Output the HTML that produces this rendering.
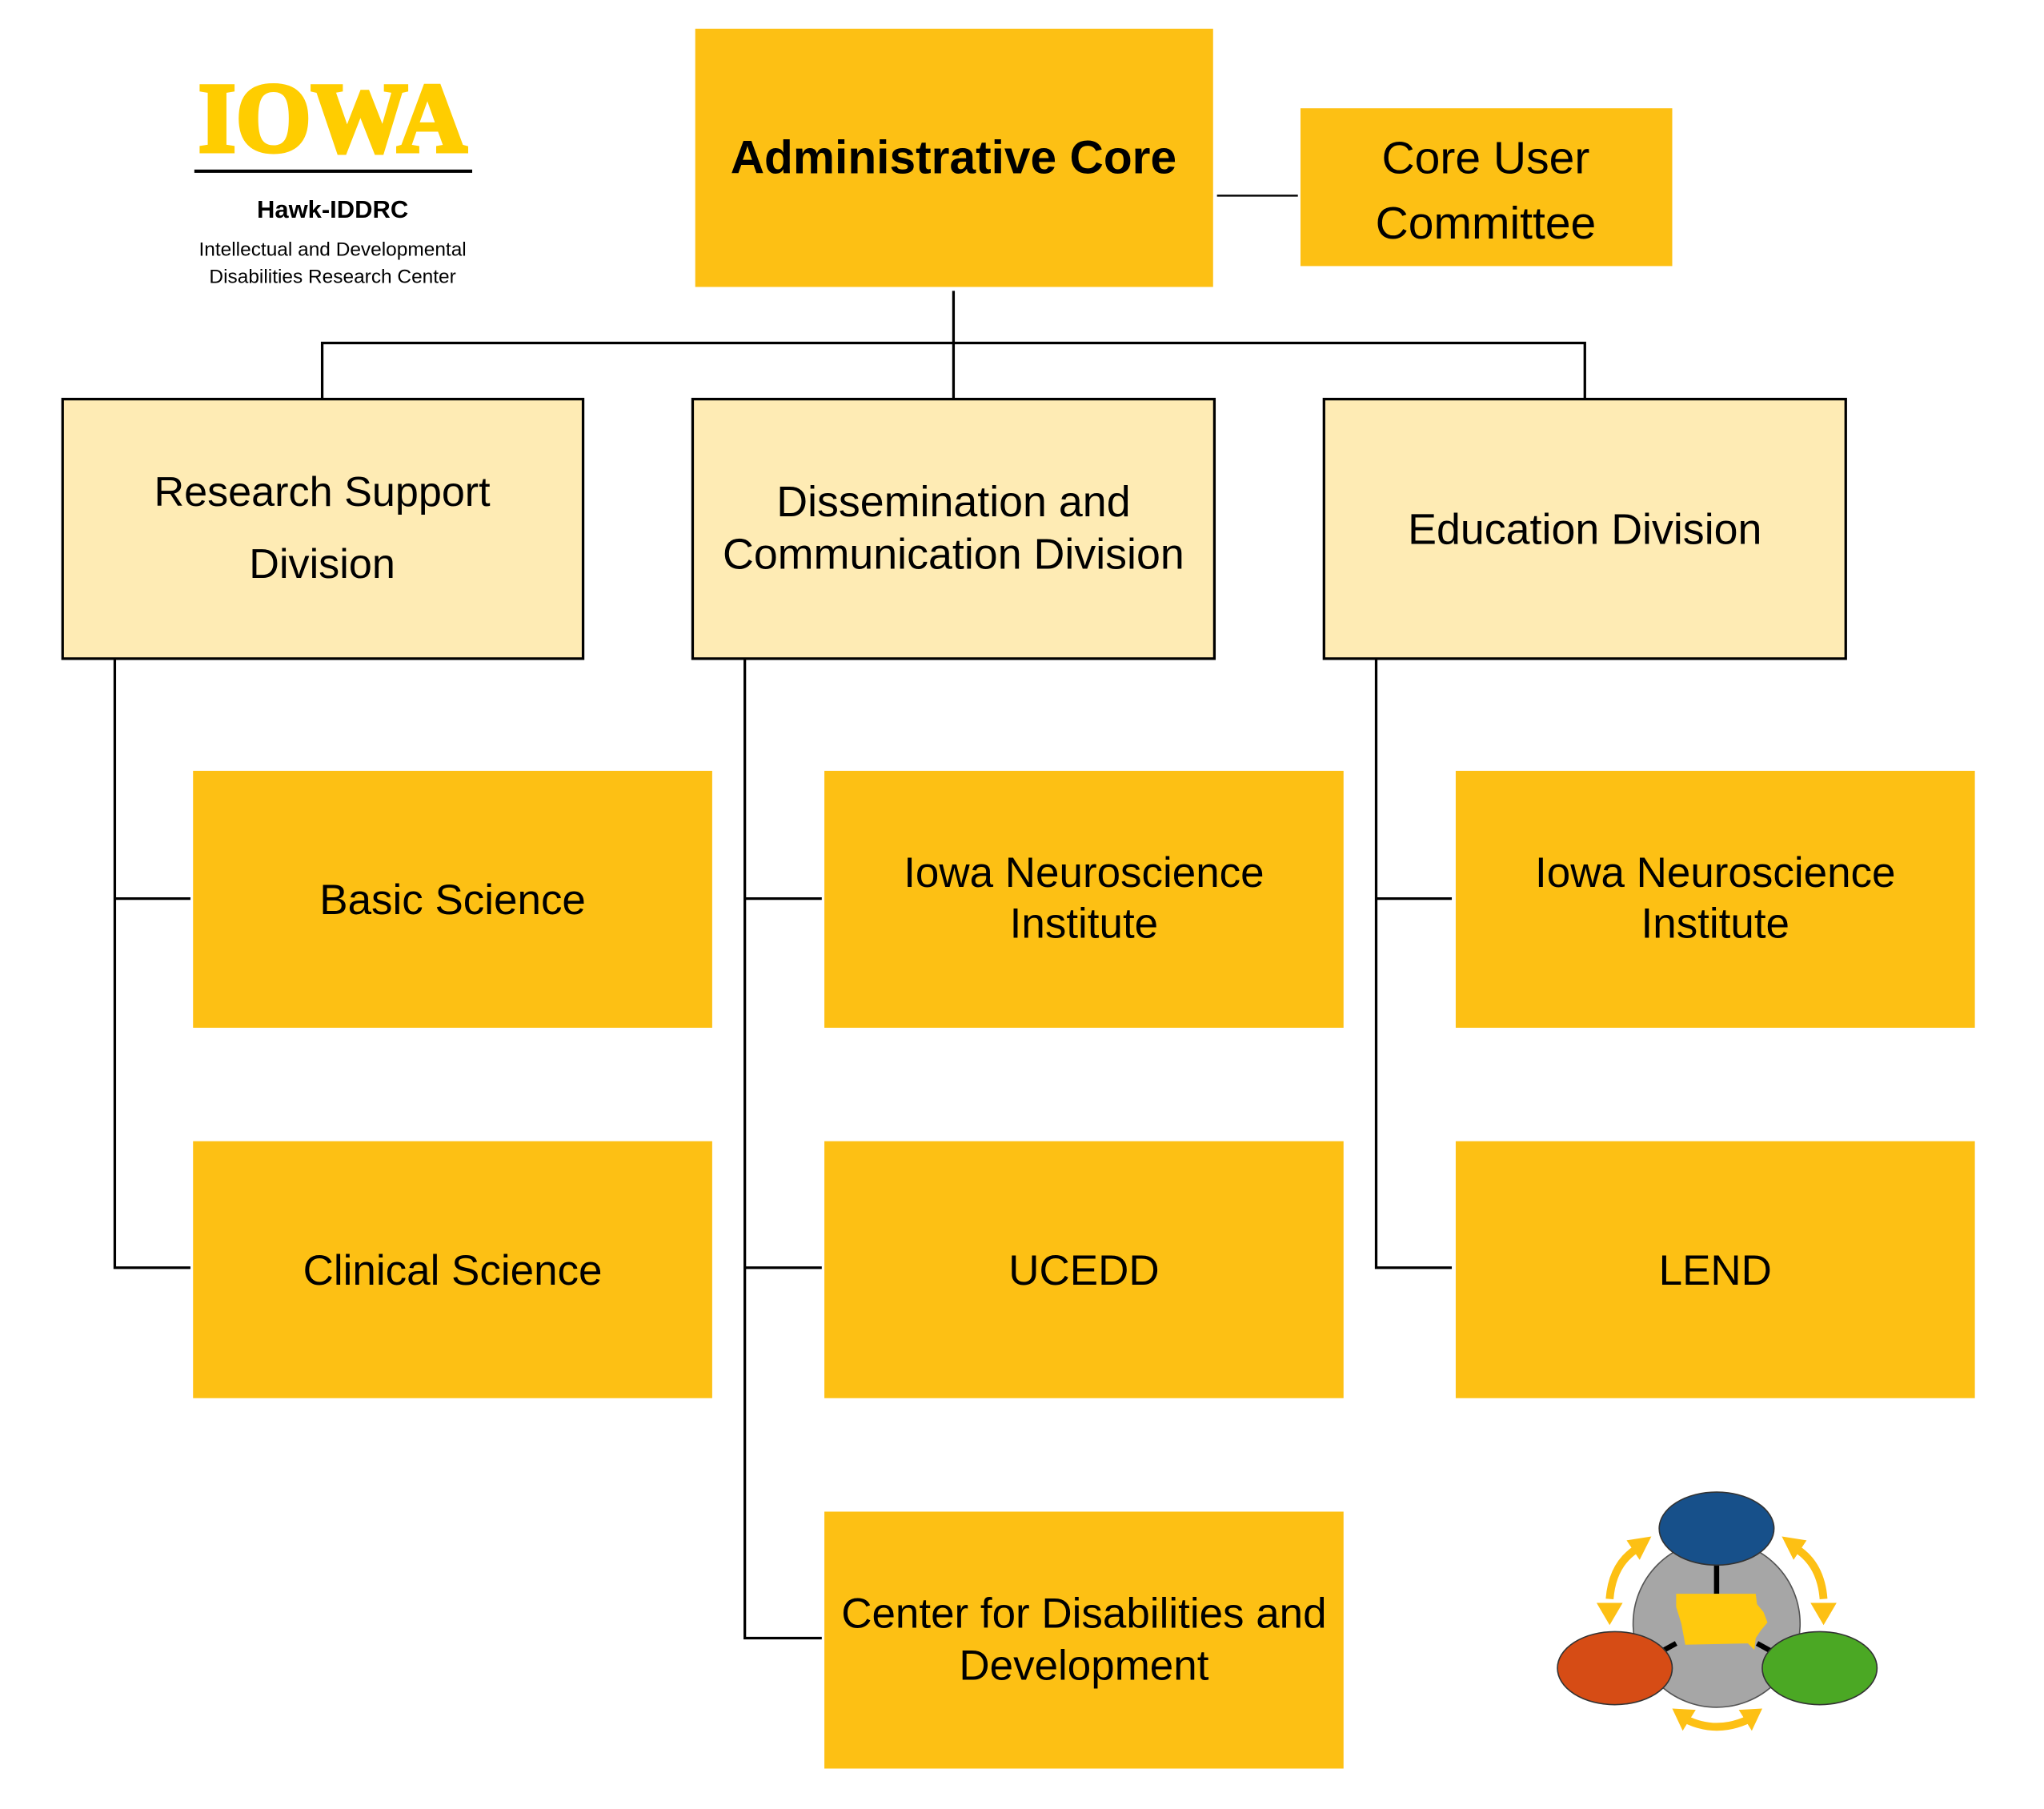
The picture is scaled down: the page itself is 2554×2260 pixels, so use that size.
<!DOCTYPE html>
<html><head><meta charset="utf-8"><style>
html,body{margin:0;padding:0;background:#fff;width:2554px;height:2260px;overflow:hidden}
svg{display:block}
text{font-family:"Liberation Sans",sans-serif;fill:#000;text-anchor:middle}
</style></head><body>
<svg width="2554" height="2260" viewBox="0 0 1567 1387" preserveAspectRatio="none" xmlns="http://www.w3.org/2000/svg">
<rect width="1567" height="1387" fill="#fff"/>
<!-- logo -->
<text x="255" y="116" style="font-family:'Liberation Serif',serif;font-weight:bold;font-size:76px;fill:#FFCD00;stroke:#FFCD00;stroke-width:3" textLength="206" lengthAdjust="spacingAndGlyphs">IOWA</text>
<rect x="149" y="130" width="213" height="2.5" fill="#000"/>
<text x="255" y="167" style="font-weight:bold;font-size:19px">Hawk-IDDRC</text>
<text x="255" y="196" style="font-size:15px">Intellectual and Developmental</text>
<text x="255" y="217" style="font-size:15px">Disabilities Research Center</text>

<g fill="#FDC014">
<rect x="533" y="22" width="397" height="198"/>
<rect x="997" y="83" width="285" height="121"/>
<rect x="148" y="591" width="398" height="197"/>
<rect x="148" y="875" width="398" height="197"/>
<rect x="632" y="591" width="398" height="197"/>
<rect x="632" y="875" width="398" height="197"/>
<rect x="632" y="1159" width="398" height="197"/>
<rect x="1116" y="591" width="398" height="197"/>
<rect x="1116" y="875" width="398" height="197"/>
</g>
<g fill="#FEEBB4" stroke="#000" stroke-width="2">
<rect x="48" y="306" width="399" height="199"/>
<rect x="531" y="306" width="400" height="199"/>
<rect x="1015" y="306" width="400" height="199"/>
</g>
<g stroke="#000" stroke-width="2" fill="none">
<line x1="933" y1="150" x2="995" y2="150" stroke-width="1.5"/>
<polyline points="731,223 731,263"/>
<polyline points="247,305 247,263 1215,263 1215,305"/>
<line x1="731" y1="263" x2="731" y2="305"/>
<polyline points="88,506 88,972 146,972"/>
<line x1="88" y1="689" x2="146" y2="689"/>
<polyline points="571,506 571,1256 630,1256"/>
<line x1="571" y1="689" x2="630" y2="689"/>
<line x1="571" y1="972" x2="630" y2="972"/>
<polyline points="1055,506 1055,972 1113,972"/>
<line x1="1055" y1="689" x2="1113" y2="689"/>
</g>
<text x="731" y="133" style="font-weight:bold;font-size:36px">Administrative Core</text>
<text x="1139" y="133" style="font-size:35px">Core User</text>
<text x="1139" y="183" style="font-size:35px">Committee</text>
<g style="font-size:32px">
<text x="247" y="388">Research Support</text>
<text x="247" y="443">Division</text>
</g>
<g style="font-size:33px">
<text x="731" y="396">Dissemination and</text>
<text x="731" y="436">Communication Division</text>
<text x="1215" y="417">Education Division</text>
</g>
<g style="font-size:32.5px">
<text x="347" y="701">Basic Science</text>
<text x="347" y="985">Clinical Science</text>
<text x="831" y="680">Iowa Neuroscience</text>
<text x="831" y="719">Institute</text>
<text x="831" y="985">UCEDD</text>
<text x="831" y="1248">Center for Disabilities and</text>
<text x="831" y="1288">Development</text>
<text x="1315" y="680">Iowa Neuroscience</text>
<text x="1315" y="719">Institute</text>
<text x="1315" y="985">LEND</text>
</g>
<!-- icon -->
<circle cx="1316" cy="1245" r="64" fill="#A6A6A6" stroke="#555" stroke-width="1"/>
<g stroke="#000" stroke-width="4">
<line x1="1316" y1="1190" x2="1316" y2="1222"/>
<line x1="1285" y1="1260" x2="1265" y2="1271"/>
<line x1="1347" y1="1260" x2="1367" y2="1271"/>
</g>
<polygon points="1285,1222 1346,1222 1347,1230 1352,1236 1355,1244 1350,1250 1346,1256 1345,1265 1340,1260 1292,1261 1289,1245 1285,1232" fill="#FFC90E"/>
<ellipse cx="1316" cy="1172" rx="44" ry="28" fill="#17508A" stroke="#333" stroke-width="1"/>
<ellipse cx="1238" cy="1279" rx="44" ry="28" fill="#D64C15" stroke="#333" stroke-width="1"/>
<ellipse cx="1395" cy="1279" rx="44" ry="28" fill="#4BA824" stroke="#333" stroke-width="1"/>
<g fill="none" stroke="#FDC014" stroke-width="6">
<path d="M1234,1226 Q1236,1200 1254,1188"/>
<path d="M1398,1226 Q1396,1200 1378,1188"/>
<path d="M1292,1318 Q1316,1330 1341,1318"/>
</g>
<g fill="#FDC014">
<polygon points="1266,1178 1247,1181 1257,1196"/>
<polygon points="1224,1229 1244,1229 1234,1246"/>
<polygon points="1366,1178 1385,1181 1375,1196"/>
<polygon points="1388,1229 1408,1229 1398,1246"/>
<polygon points="1282,1310 1300,1311 1290,1327"/>
<polygon points="1351,1310 1333,1311 1343,1327"/>
</g>
</svg>
</body></html>
